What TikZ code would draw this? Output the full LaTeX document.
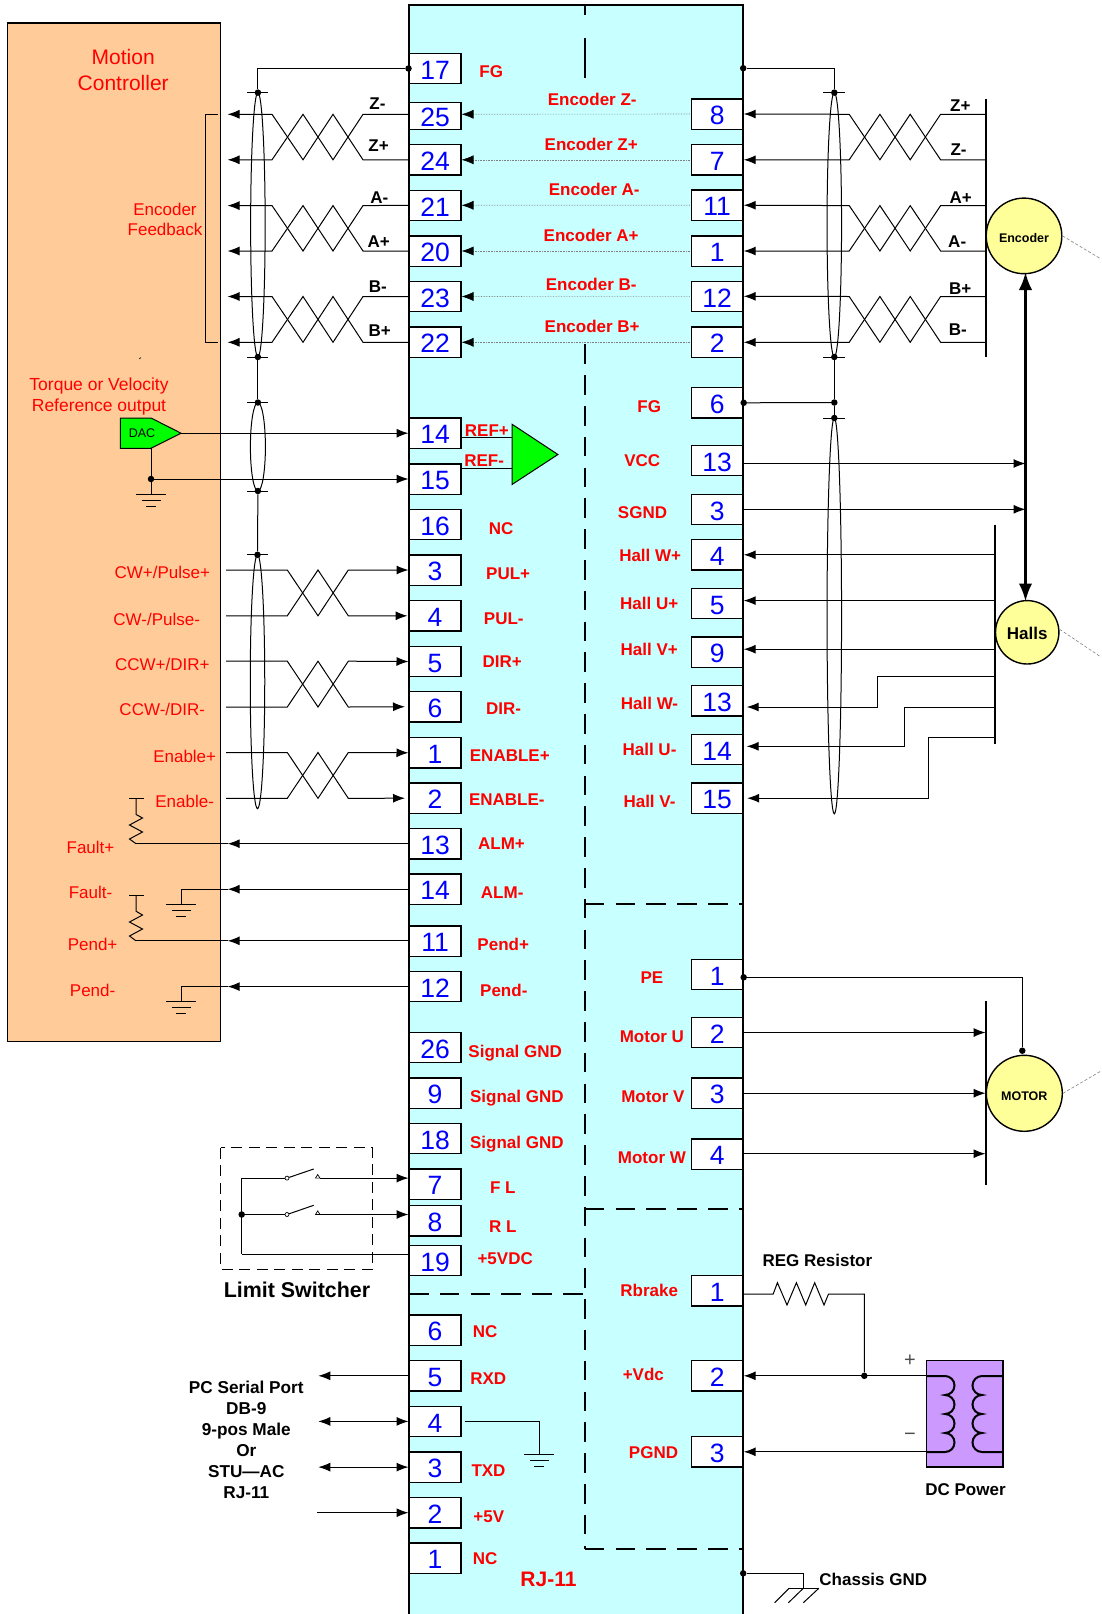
\documentclass[tikz,border=0pt]{standalone}
\usepackage{fontspec}
\setmainfont{Liberation Sans}
\usetikzlibrary{arrows.meta,shapes.geometric}

\definecolor{drvblue}{HTML}{C8FFFF}
\definecolor{ctrlorange}{HTML}{FFCC99}
\definecolor{motoryellow}{HTML}{FFFF99}
\definecolor{psupurple}{HTML}{CC99FF}
\definecolor{ampgreen}{HTML}{00FF00}

\tikzset{
    pinbox/.style={draw, fill=white, line width=1.3pt, minimum width=51.7pt, minimum height=30.3pt, inner sep=0pt, text=blue, text height=21.5pt, text depth=0pt, font=\fontsize{26.5}{26.5}\selectfont},
    redlbl/.style={text=red, inner sep=0pt, text height=12.2pt, text depth=0pt, yshift=-0.8pt, xshift=0.5pt, font=\bfseries\fontsize{17}{20}\selectfont},
    ctrllbl/.style={text=red, inner sep=0pt, align=center, font=\fontsize{17}{20}\selectfont},
    blklbl/.style={inner sep=0pt, align=center, font=\bfseries\fontsize{17}{21}\selectfont},
    wirelbl/.style={blklbl, yshift=-0.7pt},
    wire/.style={line width=1pt},
    dotwire/.style={gray, line width=0.6pt, densely dotted},
    section/.style={line width=2pt, dash pattern=on 19.6pt off 11.2pt},
    shield/.style={draw, ellipse, line width=1pt, inner sep=0pt, minimum width=14.5pt},
    jdot/.style={circle, fill, inner sep=0pt, minimum size=6.5pt},
    swpivot/.style={circle, draw, fill=white, inner sep=0pt, minimum size=4pt, line width=0.7pt},
    device/.style={circle, draw, fill=motoryellow, line width=1.4pt, inner sep=0pt, text height=12.5pt, text depth=0pt, font=\bfseries\fontsize{12.5}{14}\selectfont},
    cable/.style={gray, line width=0.6pt, densely dashed},
    bar/.style={line width=1.6pt},
    gndmark/.pic={
        \draw[wire] (-15,0) -- (15,0);
        \draw[wire] (-9.5,6) -- (9.5,6);
        \draw[wire] (-5,12) -- (5,12);
    },
}

\begin{document}
\begin{tikzpicture}[x=1pt, y=-1pt, >={Latex[length=12pt,width=9pt,color=black]}]
    \useasboundingbox (0,0) rectangle (1101,1614);

    % Boxes
    \fill[drvblue] (409,4.8) rectangle (743.2,1614);
    \draw[line width=1.6pt] (409,1614) -- (409,4.8) -- (743.2,4.8) -- (743.2,1614);
    \draw[fill=ctrlorange, line width=1.1pt] (7.9,23) rectangle (220.7,1041.7);

    % Section lines
    \draw[line width=2pt] (584.8,4.8) -- (584.8,15);
    \draw[line width=2pt] (584.8,38) -- (584.8,78);
    \draw[section] (584.8,344.4) -- (584.8,1549.4);
    \draw[section] (584.8,904.3) -- (743.2,904.3);
    \draw[section] (584.8,1208.7) -- (743.2,1208.7);
    \draw[section] (584.8,1549.3) -- (743.2,1549.3);
    \draw[section] (409,1293.9) -- (584.8,1293.9);

    % Left pins
    \node[pinbox] at (435,68.5) (L17) {17};
    \node[pinbox, minimum height=27.2pt] at (435,115.9) (L25) {25};
    \node[pinbox] at (435,159.8) (L24) {24};
    \node[pinbox] at (435,205.3) (L21) {21};
    \node[pinbox] at (435,251) (L20) {20};
    \node[pinbox] at (435,296.5) (L23) {23};
    \node[pinbox] at (435,342) (L22) {22};
    \node[pinbox] at (435,433.2) (L14) {14};
    \node[pinbox] at (435,479) (L15) {15};
    \node[pinbox] at (435,524.5) (L16) {16};
    \node[pinbox] at (435,570) (L3) {3};
    \node[pinbox] at (435,615.8) (L4) {4};
    \node[pinbox] at (435,661.5) (L5) {5};
    \node[pinbox] at (435,706.7) (L6) {6};
    \node[pinbox] at (435,752.8) (L1) {1};
    \node[pinbox] at (435,798.2) (L2) {2};
    \node[pinbox] at (435,843.8) (L13) {13};
    \node[pinbox] at (435,889.2) (L14b) {14};
    \node[pinbox] at (435,941.2) (L11) {11};
    \node[pinbox] at (435,986.6) (L12) {12};
    \node[pinbox] at (435,1047.5) (L26) {26};
    \node[pinbox] at (435,1093.2) (L9) {9};
    \node[pinbox] at (435,1138.5) (L18) {18};
    \node[pinbox] at (435,1184.2) (L7) {7};
    \node[pinbox] at (435,1220.8) (L8) {8};
    \node[pinbox] at (435,1260.3) (L19) {19};
    \node[pinbox] at (435,1330.2) (L6b) {6};
    \node[pinbox] at (435,1375.8) (L5b) {5};
    \node[pinbox] at (435,1421.4) (L4b) {4};
    \node[pinbox] at (435,1467.1) (L3b) {3};
    \node[pinbox] at (435,1512.7) (L2b) {2};
    \node[pinbox] at (435,1558.2) (L1b) {1};

    % Right pins
    \node[pinbox] at (717.2,114) (R8) {8};
    \node[pinbox] at (717.2,159.8) (R7) {7};
    \node[pinbox] at (717.2,205.2) (R11) {11};
    \node[pinbox] at (717.2,251) (R1) {1};
    \node[pinbox] at (717.2,296.3) (R12) {12};
    \node[pinbox] at (717.2,342) (R2) {2};
    \node[pinbox] at (717.2,402.8) (R6) {6};
    \node[pinbox] at (717.2,460.5) (R13) {13};
    \node[pinbox] at (717.2,509.3) (R3) {3};
    \node[pinbox] at (717.2,554.8) (R4) {4};
    \node[pinbox] at (717.2,603.3) (R5) {5};
    \node[pinbox] at (717.2,652.2) (R9) {9};
    \node[pinbox] at (717.2,700.8) (R13b) {13};
    \node[pinbox] at (717.2,749.3) (R14) {14};
    \node[pinbox] at (717.2,798.2) (R15) {15};
    \node[pinbox] at (717.2,974.5) (R1b) {1};
    \node[pinbox] at (717.2,1032.5) (R2b) {2};
    \node[pinbox] at (717.2,1093.2) (R3b) {3};
    \node[pinbox] at (717.2,1154.2) (R4b) {4};
    \node[pinbox] at (717.2,1290.8) (R1c) {1};
    \node[pinbox] at (717.2,1375.8) (R2c) {2};
    \node[pinbox] at (717.2,1451.8) (R3c) {3};

    % Free ends of the encoder wires
    \coordinate (ZmL) at (227.5,114.3);
    \coordinate (ZpL) at (227.5,159.8);
    \coordinate (AmL) at (227.5,205.6);
    \coordinate (ApL) at (227.5,251);
    \coordinate (BmL) at (227.5,296.5);
    \coordinate (BpL) at (227.5,342.3);
    \coordinate (ZpR) at (986.2,114.3);
    \coordinate (ZmR) at (986.2,159.8);
    \coordinate (ApR) at (986.2,205.6);
    \coordinate (AmR) at (986.2,251);
    \coordinate (BpR) at (986.2,296.5);
    \coordinate (BmR) at (986.2,342.3);

    % Encoder wires, left
    \draw[wire,->] (ZmL -| L25.west) -- (363,114.3) -- (333,159.8) -- (303,114.3) -- (272,159.8) -- (ZpL);
    \draw[wire,->] (L24.west) -- (363,159.8) -- (333,114.3) -- (303,159.8) -- (272,114.3) -- (ZmL);
    \draw[wire,->] (L21.west) -- (363,205.6) -- (333,251) -- (303,205.6) -- (272,251) -- (ApL);
    \draw[wire,->] (L20.west) -- (363,251) -- (333,205.6) -- (303,251) -- (272,205.6) -- (AmL);
    \draw[wire,->] (L23.west) -- (363,296.5) -- (333,342.3) -- (303,296.5) -- (272,342.3) -- (BpL);
    \draw[wire,->] (BpL -| L22.west) -- (363,342.3) -- (333,296.5) -- (303,342.3) -- (272,296.5) -- (BmL);

    % Encoder wires, right
    \draw[wire,->] (ZpR) -- (940.6,114.3) -- (910.2,159.8) -- (879.9,114.3) -- (849.2,159.8) -- (R7.east);
    \draw[wire,->] (ZmR) -- (940.6,159.8) -- (910.2,114.3) -- (879.9,159.8) -- (849.2,114.3) -- (R8.east);
    \draw[wire,->] (ApR) -- (940.6,205.6) -- (910.2,251) -- (879.9,205.6) -- (849.2,251) -- (R1.east);
    \draw[wire,->] (AmR) -- (940.6,251) -- (910.2,205.6) -- (879.9,251) -- (849.2,205.6) -- (R11.east);
    \draw[wire,->] (BpR) -- (940.6,296.5) -- (910.2,342.3) -- (879.9,296.5) -- (849.2,342.3) -- (BpL -| R2.east);
    \draw[wire,->] (BmR) -- (940.6,342.3) -- (910.2,296.5) -- (879.9,342.3) -- (849.2,296.5) -- (R12.east);
    \draw[bar] (986.2,98.8) -- (986.2,357.4);

    % Through the drive
    \draw[dotwire,<-] (ZmL -| L25.east) -- (R8.west);
    \draw[dotwire,<-] (L24.east) -- (R7.west);
    \draw[dotwire,<-] (L21.east) -- (R11.west);
    \draw[dotwire,<-] (L20.east) -- (R1.west);
    \draw[dotwire,<-] (L23.east) -- (R12.west);
    \draw[dotwire,<-] (BpL -| L22.east) -- (BpL -| R2.west);

    % Shields
    \node[jdot] at (L17.west) (fgL) {};
    \node[jdot] at (743.2,68.2) (fgR) {};
    \node[jdot] at (257.9,92.6) (sL1t) {};
    \node[jdot] at (257.9,357) (sL1b) {};
    \node[jdot] at (257.9,402.5) (sL2t) {};
    \node[jdot] at (257.9,491) (sL2b) {};
    \node[jdot] at (257.5,554.8) (sL3t) {};
    \node[jdot] at (834.3,92.6) (sR1t) {};
    \node[jdot] at (834.3,357) (sR1b) {};
    \node[jdot] at (R6.east) (fgR6) {};
    \node[jdot] at (834.3,402.5) (fgJ) {};
    \node[jdot] at (834.3,418) (sR2t) {};
    \node[shield, minimum height=264.4pt] at (257.9,224.8) (shL1) {};
    \node[shield, minimum height=88.5pt, minimum width=15pt] at (257.9,446.8) (shL2) {};
    \node[shield, minimum height=253.8pt] at (257.5,681.7) (shL3) {};
    \node[shield, minimum height=264.4pt] at (834.3,224.8) (shR1) {};
    \node[shield, minimum height=395.8pt] at (834.3,615.9) (shR2) {};

    \draw[wire] (fgL) -- (fgL -| sL1t) -- (sL1t);
    \draw[wire] (sL1b) -- (sL2t);
    \draw[wire] (sL2b) -- (sL3t);
    \draw[wire] (fgR) -- (fgR -| sR1t) -- (sR1t);
    \draw[wire] (sR1b) -- (fgJ);
    \draw[wire] (fgJ) -- (sR2t);
    \draw[wire] (fgR6) -- (fgJ);
    \draw[wire] ([xshift=-11pt]sL1t.center) -- ([xshift=10pt]sL1t.center);
    \draw[wire] ([xshift=-11pt]sL1b.center) -- ([xshift=10pt]sL1b.center);
    \draw[wire] ([xshift=-11pt]sL2t.center) -- ([xshift=10pt]sL2t.center);
    \draw[wire] ([xshift=-11pt]sL2b.center) -- ([xshift=10pt]sL2b.center);
    \draw[wire] ([xshift=-11pt]sL3t.center) -- ([xshift=10pt]sL3t.center);
    \draw[wire] ([xshift=-11pt]sR1t.center) -- ([xshift=11pt]sR1t.center);
    \draw[wire] ([xshift=-11pt]sR1b.center) -- ([xshift=11pt]sR1b.center);
    \draw[wire] ([xshift=-11pt]sR2t.center) -- ([xshift=11pt]sR2t.center);

    % Encoder feedback bracket
    \draw[wire] (218,114.3) -- (205.4,114.3) -- (205.4,342.3) -- (218,342.3);
    \draw[line width=0.6pt] (139.2,359) -- (141,357.5);

    % DAC and reference
    \coordinate (dacTip) at (181,433.2);
    \coordinate (dacLow) at (151,448.3);
    \draw[fill=ampgreen, line width=1pt] (120.4,418) -- (151,418) -- (dacTip) -- (dacLow) -- (120.4,448.3) -- cycle;
    \node[inner sep=0pt, font=\fontsize{12.5}{14}\selectfont] at (142,433.5) (dacText) {DAC};
    \draw[wire,->] (dacTip) -- (L14.west);
    \node[jdot] at (151,479) (dacDot) {};
    \coordinate (dacGnd) at (151,494);
    \draw[wire] (dacLow) -- (dacDot);
    \draw[wire,->] (dacDot) -- (L15.west);
    \draw[wire] (dacDot) -- (dacGnd);
    \pic at (dacGnd) {gndmark};

    \coordinate (ampA) at (512,424.2);
    \coordinate (ampB) at (512,484.5);
    \coordinate (ampUp) at (512,437.7);
    \coordinate (ampLo) at (512,468.3);
    \draw[fill=ampgreen, line width=1pt] (ampA) -- (557.9,454.5) -- (ampB) -- cycle;
    \draw[wire] (L14.east |- ampUp) -- (ampUp);
    \draw[wire] (L15.east |- ampLo) -- (ampLo);

    % Control signals
    \coordinate (cwp) at (226,570);
    \coordinate (cwm) at (226,615.8);
    \coordinate (ccwp) at (226,661.2);
    \coordinate (ccwm) at (226,707);
    \coordinate (enp) at (226,752.5);
    \coordinate (enm) at (226,798.3);
    \draw[wire,->] (cwp) -- (287.3,570) -- (318,615.8) -- (348.3,570) -- (L3.west);
    \draw[wire,->,shorten >=1pt] (cwm) -- (287.3,615.8) -- (318,570) -- (348.3,615.8) -- (L4.west);
    \draw[wire,->] (ccwp) -- (287.3,661.2) -- (318,707) -- (348.3,661.2) -- (L5.west);
    \draw[wire,->,shorten >=3.5pt] (ccwm) -- (287.3,707) -- (318,661.2) -- (348.3,707) -- (L6.west);
    \draw[wire,->] (enp) -- (287.3,752.5) -- (318,798.3) -- (348.3,752.5) -- (L1.west);
    \draw[wire,->,shorten >=3.5pt] (enm) -- (287.3,798.3) -- (318,752.5) -- (348.3,798.3) -- (L2.west);

    % Outputs to the controller
    \coordinate (alpTip) at (227.7,843.7);
    \coordinate (almTip) at (227.7,889.2);
    \coordinate (pdpTip) at (227.7,940.8);
    \coordinate (pdmTip) at (227.7,986.6);
    \coordinate (alp) at (136,843.7);
    \coordinate (alm) at (181,889.2);
    \coordinate (pdp) at (136,940.8);
    \coordinate (pdm) at (181,986.6);
    \draw[wire,->] (alpTip -| L13.west) -- (alpTip);
    \draw[wire] (alpTip) -- (alp);
    \draw[wire,->] (L14b.west) -- (almTip);
    \draw[wire] (almTip) -- (alm) -- (181,904.3);
    \pic at (181,904.3) {gndmark};
    \draw[wire,->] (pdpTip -| L11.west) -- (pdpTip);
    \draw[wire] (pdpTip) -- (pdp);
    \draw[wire,->] (L12.west) -- (pdmTip);
    \draw[wire] (pdmTip) -- (pdm) -- (181,1001.8);
    \pic at (181,1001.8) {gndmark};

    % Pull-up resistors
    \draw[wire] (129.3,798) -- (143.7,798);
    \draw[wire] (136,798) -- (136,814.4) -- (142.5,818) -- (129.5,825) -- (142.5,832) -- (129.5,839) -- (alp);
    \draw[wire] (129.3,895.4) -- (143.7,895.4);
    \draw[wire] (136,895.4) -- (136,911.2) -- (142.5,915) -- (129.5,922) -- (142.5,929) -- (129.5,936) -- (pdp);

    % Hall wires
    \coordinate (hallTop) at (995,524.5);
    \coordinate (hallEnd) at (995,743.9);
    \coordinate (hUp) at (995,600.6);
    \coordinate (hVp) at (995,649.2);
    \coordinate (hWm) at (995,676.7);
    \coordinate (hUm) at (995,707);
    \coordinate (hVm) at (995,737.3);
    \draw[bar] (hallTop) -- (hallEnd);
    \draw[wire,->] (hallTop |- R4.east) -- (R4.east);
    \draw[wire,->] (hUp) -- (hUp -| R5.east);
    \draw[wire,->] (hVp) -- (hVp -| R9.east);
    \draw[wire,->,shorten >=3.5pt] (hWm) -- (877.8,676.7) -- (877.8,707) -- (743.2,707);
    \draw[wire,->,shorten >=3.5pt] (hUm) -- (904,707) -- (904,746.3) -- (743.2,746.3);
    \draw[wire,->,shorten >=3.5pt] (hVm) -- (928.5,737.3) -- (928.5,798.2) -- (R15.east);

    % Encoder and halls
    \node[device, minimum size=75.6pt] at (1024,235.9) (encoder) {Encoder};
    \node[device, minimum size=63.4pt, text height=14pt, font=\bfseries\fontsize{17}{20}\selectfont] at (1027.2,632.3) (halls) {Halls};
    \coordinate (busTop) at (1025.5,272);
    \coordinate (busEnd) at (1025.5,601.5);
    \draw[line width=3pt,<->,>={Latex[length=18pt,width=13.5pt]}] (busTop) -- (busEnd);
    \draw[wire,->] (743.2,463.5) -- (busTop |- 0,463.5);
    \draw[wire,->] (R3.east) -- (R3.east -| busTop);
    \coordinate (encOut) at (1101,259);
    \coordinate (hallOut) at (1101,657);
    \coordinate (motOut) at (1101,1071);
    \draw[cable] (encoder.east) -- (encOut);
    \draw[cable] (halls.east) ++(0,-3) -- (hallOut);

    % Motor
    \node[device, minimum size=76pt, text height=13.5pt] at (1024.3,1093.3) (motor) {MOTOR};
    \draw[cable] (motor.east) -- (motOut);
    \draw[bar] (986,1001.3) -- (986,1185);
    \node[jdot] at (R1b.east |- 0,977.3) (peL) {};
    \node[jdot] at (1022.3,1050.7) (peR) {};
    \draw[wire] (peL) -- (peL -| peR) -- (peR);
    \draw[wire,->] (R2b.east) -- (R2b.east -| motor.west);
    \draw[wire,->] (R3b.east) -- (R3b.east -| motor.west);
    \draw[wire,->] (R4b.east |- 0,1153.7) -- (985.5,1153.7);

    % Brake resistor and DC power
    \node[draw, fill=psupurple, line width=1.3pt, minimum width=76.2pt, minimum height=106.3pt, inner sep=0pt] at (964.9,1413.8) (dcbox) {};
    \node[jdot] at (864.3,1375.8) (dcJ) {};
    \draw[wire,->] (dcbox.west |- dcJ) -- (R2c.east);
    \draw[wire,->] (dcbox.west |- R3c.east) -- (R3c.east);
    \draw[wire] (R1c.east |- 0,1294) -- (773.2,1294) -- (777.4,1282.7) -- (787,1305) -- (796.4,1282.7) -- (805.7,1305) -- (814.7,1282.7) -- (824,1305) -- (828.5,1294) -- (864.3,1294) -- (dcJ);
    \draw[line width=2pt] (926.8,1376) -- (945,1376) arc[start angle=-90, end angle=90, x radius=9.5, y radius=9.5] arc[start angle=-90, end angle=90, x radius=9.5, y radius=9.5] arc[start angle=-90, end angle=90, x radius=9.5, y radius=9.5] arc[start angle=-90, end angle=90, x radius=9.5, y radius=9.5] -- (926.8,1452);
    \draw[line width=2pt] (1003,1376) -- (982,1376) arc[start angle=270, end angle=90, x radius=9.5, y radius=9.5] arc[start angle=270, end angle=90, x radius=9.5, y radius=9.5] arc[start angle=270, end angle=90, x radius=9.5, y radius=9.5] arc[start angle=270, end angle=90, x radius=9.5, y radius=9.5] -- (1003,1452);
    \node[inner sep=0pt, text=black!70, font=\fontsize{20}{20}\selectfont] at (910,1361) (dcPlus) {+};
    \node[inner sep=0pt, text=black!70, font=\fontsize{20}{20}\selectfont] at (910,1436.5) (dcMinus) {−};

    % Chassis ground
    \node[jdot] at (743.2,1573.3) (chDot) {};
    \coordinate (chGnd) at (803.3,1588.3);
    \draw[wire] (chDot) -- (chDot -| chGnd) -- (chGnd);
    \draw[wire] (789,1588.3) -- (818.8,1588.3);
    \draw[wire] (789,1588.3) -- (774.6,1602.7);
    \draw[wire] (803.3,1588.3) -- (788.4,1602.7);
    \draw[wire] (818.8,1588.3) -- (803.3,1602.7);

    % Limit switches
    \draw[line width=1.3pt, dash pattern=on 11pt off 6.5pt] (220.7,1147.8) rectangle (372.3,1269.4);
    \coordinate (swTop) at (241.7,1178.1);
    \node[jdot] at (241.7,1214.5) (swDot) {};
    \coordinate (swLow) at (241.7,1254.4);
    \node[swpivot] at (287,1178.1) (sw1) {};
    \node[swpivot] at (287,1214.5) (sw2) {};
    \coordinate (sw1out) at (320,1178.1);
    \coordinate (sw2out) at (320,1214.5);
    \draw[wire] (swTop) -- (swLow);
    \draw[wire] (swTop) -- (sw1);
    \draw[wire] (swDot) -- (sw2);
    \draw[wire] (sw1) -- (313.7,1169);
    \draw[wire] (sw2) -- (313.7,1205.3);
    \draw[line width=0.7pt] (315.5,1178.1) -- (317.7,1174.5) -- (sw1out) -- cycle;
    \draw[line width=0.7pt] (315.5,1214.5) -- (317.7,1210.9) -- (sw2out) -- cycle;
    \draw[wire,->] (sw1out) -- (sw1out -| L7.west);
    \draw[wire,->] (sw2out) -- (sw2out -| L8.west);
    \draw[wire] (swLow) -- (swLow -| L19.west);

    % Serial port
    \coordinate (rxdEnd) at (318.3,1375.8);
    \coordinate (gndEnd) at (318.3,1421.4);
    \coordinate (txdEnd) at (318.3,1467.1);
    \coordinate (vccEnd) at (317.3,1512.7);
    \coordinate (gndDrop) at (539.3,1454.7);
    \draw[wire,->] (L5b.west) -- (rxdEnd);
    \draw[wire,<->] (gndEnd) -- (L4b.west);
    \draw[wire,<->] (txdEnd) -- (L3b.west);
    \draw[wire,->] (vccEnd) -- (L2b.west);
    \draw[wire] ([xshift=3pt]L4b.east) -- (gndDrop |- L4b.east) -- (gndDrop);
    \pic at (gndDrop) {gndmark};

    % Controller texts
    \node[ctrllbl, font=\fontsize{21}{25.8}\selectfont] at (123.2,69.7) (tMC) {Motion\\Controller};
    \node[ctrllbl] at (165,219) (tEF) {Encoder\\Feedback};
    \node[ctrllbl, font=\fontsize{17.5}{21}\selectfont] at (99,396.7) (tTV) {Torque or Velocity\\Reference output};
    \node[ctrllbl] at (162.3,572.7) (tCWp) {CW+/Pulse+};
    \node[ctrllbl] at (156.7,619.2) (tCWm) {CW-/Pulse-};
    \node[ctrllbl] at (162.3,664) (tCCWp) {CCW+/DIR+};
    \node[ctrllbl] at (162.3,709.8) (tCCWm) {CCW-/DIR-};
    \node[ctrllbl] at (184.7,756.3) (tENp) {Enable+};
    \node[ctrllbl] at (184.7,801) (tENm) {Enable-};
    \node[ctrllbl] at (90.5,847.5) (tFp) {Fault+};
    \node[ctrllbl] at (90.5,892) (tFm) {Fault-};
    \node[ctrllbl] at (92.6,944) (tPp) {Pend+};
    \node[ctrllbl] at (92.6,990) (tPm) {Pend-};

    % Wire names
    \node[wirelbl] at (377.5,103) (wZmL) {Z-};
    \node[wirelbl] at (378.6,145) (wZpL) {Z+};
    \node[wirelbl] at (379.3,197) (wAmL) {A-};
    \node[wirelbl] at (378.6,240.7) (wApL) {A+};
    \node[wirelbl] at (377.9,286) (wBmL) {B-};
    \node[wirelbl] at (379.6,330) (wBpL) {B+};
    \node[wirelbl] at (960.3,105.4) (wZpR) {Z+};
    \node[wirelbl] at (958.6,149) (wZmR) {Z-};
    \node[wirelbl] at (960.6,196.6) (wApR) {A+};
    \node[wirelbl] at (957.2,240.7) (wAmR) {A-};
    \node[wirelbl] at (960.3,287.5) (wBpR) {B+};
    \node[wirelbl] at (957.9,328.9) (wBmR) {B-};

    % Drive texts, left
    \node[redlbl] at (490.7,71) (tFG) {FG};
    \node[redlbl] at (486.4,430) (tREFp) {REF+};
    \node[redlbl] at (483.6,459.7) (tREFm) {REF-};
    \node[redlbl] at (500.7,528) (tNC) {NC};
    \node[redlbl] at (507.7,572.7) (tPULp) {PUL+};
    \node[redlbl] at (503.3,618) (tPULm) {PUL-};
    \node[redlbl] at (501.7,660.9) (tDIRp) {DIR+};
    \node[redlbl] at (503,708) (tDIRm) {DIR-};
    \node[redlbl] at (509.3,754.9) (tENAp) {ENABLE+};
    \node[redlbl] at (506.3,799) (tENAm) {ENABLE-};
    \node[redlbl] at (501,843) (tALMp) {ALM+};
    \node[redlbl] at (501.7,892) (tALMm) {ALM-};
    \node[redlbl] at (502.7,943.9) (tPDp) {Pend+};
    \node[redlbl] at (503.3,989.7) (tPDm) {Pend-};
    \node[redlbl] at (514.7,1050.7) (tGND1) {Signal GND};
    \node[redlbl] at (516.3,1096) (tGND2) {Signal GND};
    \node[redlbl] at (516.3,1142) (tGND3) {Signal GND};
    \node[redlbl] at (502.3,1187) (tFL) {F L};
    \node[redlbl] at (502.3,1225.8) (tRL) {R L};
    \node[redlbl] at (504.7,1257.8) (t5VDC) {+5VDC};
    \node[redlbl] at (484.7,1331) (tNC2) {NC};
    \node[redlbl] at (487.7,1378) (tRXD) {RXD};
    \node[redlbl] at (488,1470) (tTXD) {TXD};
    \node[redlbl] at (488.3,1516) (t5V) {+5V};
    \node[redlbl] at (484.7,1557.9) (tNC3) {NC};
    \node[redlbl, text height=14.5pt, yshift=1.5pt, font=\bfseries\fontsize{21}{24}\selectfont] at (548,1579.7) (tRJ) {RJ-11};

    % Drive texts, right
    \node[redlbl] at (591.7,98.8) (tEZm) {Encoder Z-};
    \node[redlbl] at (590.7,144) (tEZp) {Encoder Z+};
    \node[redlbl] at (593.7,189) (tEAm) {Encoder A-};
    \node[redlbl] at (590.7,234.6) (tEAp) {Encoder A+};
    \node[redlbl] at (590.7,284) (tEBm) {Encoder B-};
    \node[redlbl] at (591.7,326) (tEBp) {Encoder B+};
    \node[redlbl] at (648.7,405.7) (tFGr) {FG};
    \node[redlbl] at (641.8,459.4) (tVCC) {VCC};
    \node[redlbl] at (642,511.7) (tSGND) {SGND};
    \node[redlbl] at (649.7,555) (tHWp) {Hall W+};
    \node[redlbl] at (648.7,603) (tHUp) {Hall U+};
    \node[redlbl] at (648.7,649) (tHVp) {Hall V+};
    \node[redlbl] at (649,702.9) (tHWm) {Hall W-};
    \node[redlbl] at (649,748.7) (tHUm) {Hall U-};
    \node[redlbl] at (649,801) (tHVm) {Hall V-};
    \node[redlbl] at (651.4,977) (tPE) {PE};
    \node[redlbl] at (651.4,1035.2) (tMU) {Motor U};
    \node[redlbl] at (652.4,1096) (tMV) {Motor V};
    \node[redlbl] at (651.4,1156.6) (tMW) {Motor W};
    \node[redlbl] at (648.7,1289.3) (tRB) {Rbrake};
    \node[redlbl] at (642.8,1374) (tVDC) {+Vdc};
    \node[redlbl] at (653,1452) (tPGND) {PGND};

    % Outside texts
    \node[blklbl, font=\bfseries\fontsize{21.4}{24}\selectfont] at (297,1289.5) (tLS) {Limit Switcher};
    \node[blklbl, font=\bfseries\fontsize{17.2}{21}\selectfont] at (246.3,1439.5) (tPC) {PC Serial Port\\DB-9\\9-pos Male\\Or\\STU—AC\\RJ-11};
    \node[blklbl] at (817.4,1260.3) (tREG) {REG Resistor};
    \node[blklbl] at (965.5,1490) (tDC) {DC Power};
    \node[blklbl] at (873.3,1579.5) (tCH) {Chassis GND};
\end{tikzpicture}
\end{document}
